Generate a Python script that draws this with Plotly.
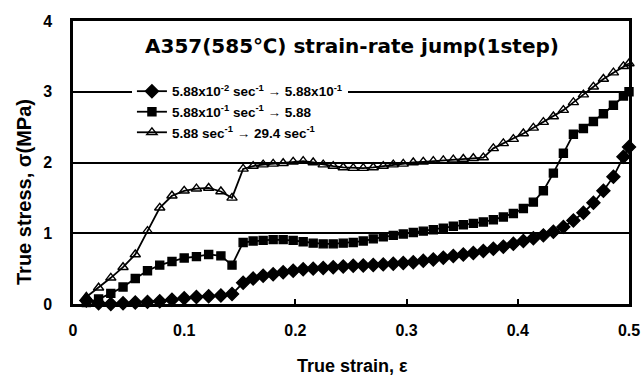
import plotly.graph_objects as go

strain = [0.012, 0.023, 0.034, 0.045, 0.056, 0.067, 0.078, 0.089, 0.100, 0.111,
          0.122, 0.133, 0.143, 0.153, 0.162, 0.171, 0.180, 0.189, 0.198, 0.207,
          0.216, 0.225, 0.234, 0.243, 0.252, 0.261, 0.270, 0.279, 0.288, 0.297,
          0.306, 0.315, 0.324, 0.333, 0.342, 0.351, 0.360, 0.369, 0.378, 0.387,
          0.396, 0.405, 0.414, 0.423, 0.432, 0.441, 0.450, 0.459, 0.468, 0.477,
          0.486, 0.495, 0.500]

stress_1 = [0.05, 0.01, 0.00, 0.01, 0.02, 0.03, 0.04, 0.06, 0.08, 0.10,
            0.11, 0.12, 0.14, 0.30, 0.36, 0.40, 0.42, 0.45, 0.47, 0.49,
            0.50, 0.51, 0.52, 0.53, 0.54, 0.545, 0.55, 0.56, 0.57, 0.58,
            0.59, 0.61, 0.63, 0.655, 0.68, 0.70, 0.72, 0.75, 0.78, 0.81,
            0.85, 0.89, 0.93, 0.97, 1.02, 1.09, 1.18, 1.29, 1.43, 1.60,
            1.80, 2.08, 2.22]

stress_2 = [0.02, 0.07, 0.15, 0.24, 0.36, 0.47, 0.55, 0.60, 0.65, 0.67,
            0.70, 0.68, 0.55, 0.87, 0.89, 0.90, 0.91, 0.91, 0.90, 0.88,
            0.86, 0.85, 0.85, 0.86, 0.87, 0.89, 0.92, 0.95, 0.97, 0.99,
            1.01, 1.03, 1.05, 1.07, 1.10, 1.12, 1.14, 1.16, 1.19, 1.23,
            1.28, 1.35, 1.44, 1.60, 1.85, 2.13, 2.40, 2.48, 2.58, 2.69,
            2.81, 2.94, 3.00]

stress_3 = [0.10, 0.23, 0.37, 0.52, 0.70, 1.03, 1.36, 1.53, 1.60, 1.63,
            1.64, 1.59, 1.50, 1.91, 1.95, 1.97, 1.98, 1.99, 2.01, 2.02,
            2.00, 1.97, 1.95, 1.93, 1.92, 1.92, 1.93, 1.95, 1.97, 1.98,
            2.00, 2.01, 2.02, 2.03, 2.04, 2.05, 2.06, 2.07, 2.20, 2.27,
            2.33, 2.41, 2.49, 2.57, 2.65, 2.74, 2.85, 2.96, 3.07, 3.18,
            3.27, 3.36, 3.40]

names = [
    "5.88x10<sup>-2</sup> sec<sup>-1</sup> \u2192 5.88x10<sup>-1</sup>",
    "5.88x10<sup>-1</sup> sec<sup>-1</sup> \u2192 5.88",
    "5.88 sec<sup>-1</sup> \u2192 29.4 sec<sup>-1</sup>",
]
series = [stress_1, stress_2, stress_3]
symbols = ["diamond", "square", "triangle-up-open"]
sizes = [10, 8, 9]

FONT = "Liberation Sans, Arial, sans-serif"
WIDE = "DejaVu Sans, Verdana, sans-serif"

L, R, T, B = 73, 15, 21, 74
PW, PH = 644 - L - R, 378 - T - B

fig = go.Figure()
for nm, ys, sym, sz in zip(names, series, symbols, sizes):
    fig.add_trace(go.Scatter(
        x=strain, y=ys, name=nm, mode="lines+markers",
        line=dict(color="black", width=1.8),
        marker=dict(symbol=sym, size=sz, color="black",
                    line=dict(color="black", width=1.4)),
        cliponaxis=False,
    ))

fig.update_layout(
    width=644, height=378,
    margin=dict(l=L, r=R, t=T, b=B, autoexpand=False),
    paper_bgcolor="white", plot_bgcolor="white",
    font=dict(family=FONT, size=16, color="black", weight="bold"),
    showlegend=True,
    legend=dict(
        x=0.106, y=0.806, xanchor="left", yanchor="top",
        bgcolor="white", borderwidth=0,
        font=dict(size=13.5, family=FONT, color="black", weight="bold"),
        tracegroupgap=0, itemwidth=30,
    ),
    xaxis=dict(
        range=[0, 0.5], tickvals=[0, 0.1, 0.2, 0.3, 0.4, 0.5],
        ticktext=["0", "0.1", "0.2", "0.3", "0.4", "0.5"],
        ticks="inside", ticklen=5, tickwidth=1.5, tickcolor="black",
        showline=True, linecolor="black", linewidth=2.5, mirror=True,
        showgrid=False, zeroline=False, automargin=False,
        ticklabelstandoff=10,
    ),
    yaxis=dict(
        range=[0, 4], tickvals=[0, 1, 2, 3, 4],
        ticks="outside", ticklen=15, tickcolor="rgba(0,0,0,0)",
        showline=True, linecolor="black", linewidth=2.5, mirror=True,
        showgrid=True, gridcolor="black", gridwidth=1.5, zeroline=False,
        automargin=False,
    ),
    annotations=[
        dict(
            text="A357(585\u2103) strain-rate jump(1step)",
            x=(352 - L) / PW, y=(304 - 46) / PH, xref="paper", yref="paper",
            xanchor="center", yanchor="middle",
            showarrow=False, font=dict(size=20, family=WIDE, color="black", weight="bold"),
        ),
        dict(
            text="True strain, \u03b5",
            x=(352 - L) / PW, y=(304 - 366) / PH, xref="paper", yref="paper",
            xanchor="center", yanchor="middle",
            showarrow=False, font=dict(size=18, family=FONT, color="black", weight="bold"),
        ),
        dict(
            text="True stress, \u03c3(MPa)",
            x=(24 - L) / PW, y=(304 - 192) / PH, xref="paper", yref="paper",
            xanchor="center", yanchor="middle", textangle=-90,
            showarrow=False, font=dict(size=20, family=FONT, color="black", weight="bold"),
        ),
    ],
)

fig.write_html("out.html")
